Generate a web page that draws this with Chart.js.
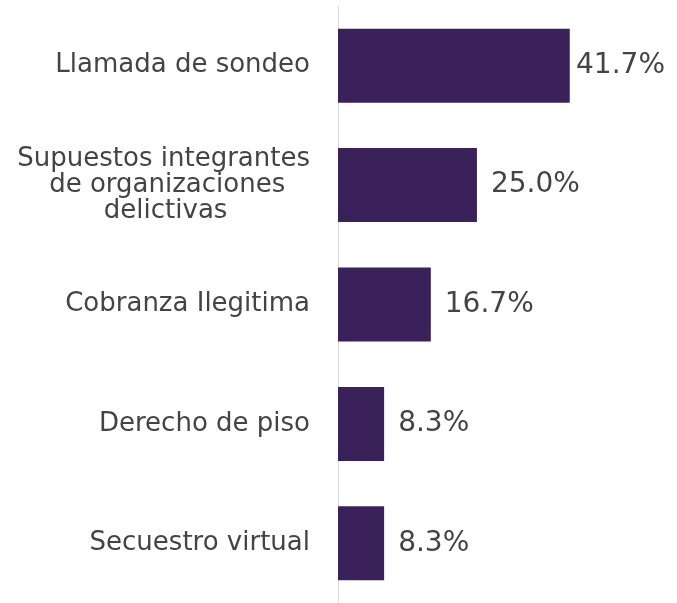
<!DOCTYPE html>
<html>
<head>
<meta charset="utf-8">
<script src="https://cdn.jsdelivr.net/npm/chart.js@4"></script>
<style>
  html, body { margin: 0; padding: 0; background: #ffffff; }
  #wrap { width: 677px; height: 603px; position: relative; }
</style>
</head>
<body>
<div id="wrap"><canvas id="c"></canvas></div>
<script>
// ---- data ----
const categories = [
  'Llamada de sondeo',
  ['Supuestos integrantes', 'de organizaciones', 'delictivas'],
  'Cobranza Ilegitima',
  'Derecho de piso',
  'Secuestro virtual'
];
const values = [41.7, 25.0, 16.7, 8.3, 8.3];
const valueLabels = ['41.7%', '25.0%', '16.7%', '8.3%', '8.3%'];

// ---- styles ----
const BAR_COLOR = '#3b2159';
const TEXT_COLOR = '#444444';
const LABEL_FONT = { family: 'DejaVu Sans', size: 26, lineHeight: 1.0 };
const VALUE_FONT_SIZE = 28;

// centre lines of a multi-line label inside its own block (block stays right-aligned)
const measureCtx = document.createElement('canvas').getContext('2d');
measureCtx.font = LABEL_FONT.size + 'px "' + LABEL_FONT.family + '"';
function centerLines(lines) {
  const widths = lines.map(l => measureCtx.measureText(l).width);
  const maxW = Math.max.apply(null, widths);
  const sp = measureCtx.measureText(' ').width;
  return lines.map((l, i) => l + ' '.repeat(Math.round((maxW - widths[i]) / 2 / sp)));
}

const valueLabelPlugin = {
  id: 'valueLabels',
  afterDatasetsDraw(chart) {
    const ctx = chart.ctx;
    const meta = chart.getDatasetMeta(0);
    ctx.save();
    ctx.font = VALUE_FONT_SIZE + 'px "DejaVu Sans"';
    ctx.fillStyle = TEXT_COLOR;
    ctx.textBaseline = 'middle';
    ctx.textAlign = 'left';
    meta.data.forEach((el, i) => {
      const txt = valueLabels[i];
      const w = ctx.measureText(txt).width;
      const x = Math.min(el.x + 14, chart.width - 12 - w);
      ctx.fillText(txt, x, el.y);
    });
    ctx.restore();
  }
};

new Chart(document.getElementById('c'), {
  type: 'bar',
  data: {
    labels: categories,
    datasets: [{
      data: values,
      backgroundColor: BAR_COLOR,
      borderWidth: 0,
      barPercentage: 0.62,
      categoryPercentage: 1.0
    }]
  },
  options: {
    indexAxis: 'y',
    responsive: true,
    maintainAspectRatio: false,
    animation: false,
    layout: { padding: { top: 6, right: 0, bottom: 0, left: 0 } },
    plugins: {
      legend: { display: false },
      tooltip: { enabled: false }
    },
    scales: {
      x: {
        display: false,
        min: 0,
        max: 61
      },
      y: {
        grid: { display: false, drawTicks: false },
        border: { display: true, color: '#dcdcdc', width: 1 },
        ticks: {
          color: TEXT_COLOR,
          font: LABEL_FONT,
          padding: 28,
          crossAlign: 'near',
          callback: function (value) {
            const lab = this.getLabelForValue(value);
            return Array.isArray(lab) ? centerLines(lab) : lab;
          }
        },
        afterFit(scale) {
          scale.width = 338;
          scale.paddingTop = 0;
          scale.paddingBottom = 0;
        }
      }
    }
  },
  plugins: [valueLabelPlugin]
});
</script>
</body>
</html>
